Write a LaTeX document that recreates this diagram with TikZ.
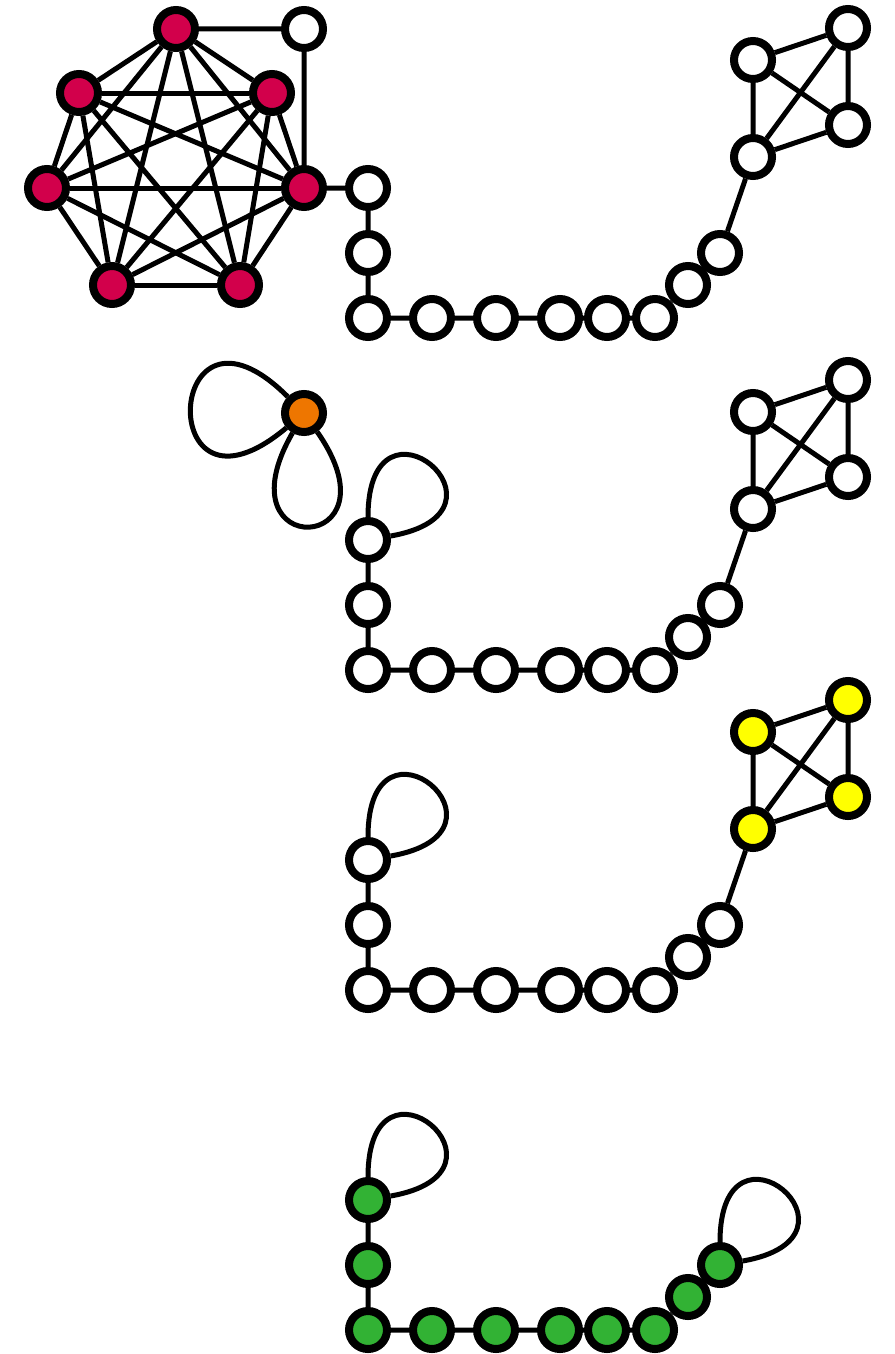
\documentclass[tikz,border=0pt]{standalone}
\usetikzlibrary{positioning}
\definecolor{cliquered}{RGB}{210,0,75}
\definecolor{huborange}{RGB}{238,118,0}
\definecolor{coreyellow}{RGB}{255,255,0}
\definecolor{tailgreen}{RGB}{50,178,52}

\begin{document}
\begin{tikzpicture}[
    x=1pt, y=1pt,
    vertex/.style={circle, draw, line width=8pt, minimum size=38pt, inner sep=0pt, fill=white},
    clique/.style={vertex, fill=cliquered},
    hub/.style={vertex, fill=huborange},
    core/.style={vertex, fill=coreyellow},
    tail/.style={vertex, fill=tailgreen},
    link/.style={line width=5pt},
    selfloop/.style={line width=5pt, looseness=1, min distance=140pt}
]
\useasboundingbox (0,0) rectangle (894,-1354);

% first graph: clique, chain and K4
\node[clique] (a1) at (176,-29) {};
\node[clique] (a2) at (79,-93) {};
\node[clique] (a3) at (272,-93) {};
\node[clique] (a4) at (47,-188) {};
\node[clique] (a5) at (304,-188) {};
\node[clique] (a6) at (112,-285) {};
\node[clique] (a7) at (240,-285) {};
\node[vertex] (aw) at (304,-29) {};
\node[vertex] (p1) at (368,-188) {};
\node[vertex] (p2) at (368,-253) {};
\node[vertex] (p3) at (368,-318) {};
\node[vertex] (p4) at (432,-318) {};
\node[vertex] (p5) at (496,-318) {};
\node[vertex] (p6) at (560,-318) {};
\node[vertex] (p7) at (607,-318) {};
\node[vertex] (p8) at (655,-318) {};
\node[vertex] (p9) at (688,-285) {};
\node[vertex] (p10) at (720,-253) {};
\node[vertex] (q1) at (753,-157) {};
\node[vertex] (q2) at (753,-60) {};
\node[vertex] (q3) at (848,-28) {};
\node[vertex] (q4) at (848,-125) {};
\foreach \i in {1,...,6} {
    \pgfmathtruncatemacro\k{\i+1}
    \foreach \j in {\k,...,7}
        \draw[link] (a\i) -- (a\j);
}
\draw[link] (a1) -- (aw) -- (a5) -- (p1) -- (p2) -- (p3) -- (p4) -- (p5) -- (p6) -- (p7) -- (p8) -- (p9) -- (p10) -- (q1);
\draw[link] (q1) -- (q2) -- (q3) -- (q4) -- (q1) -- (q3) (q2) -- (q4);

% second graph: hub with two loops
\node[hub] (b0) at (304,-413) {};
\node[vertex] (b1) at (368,-540) {};
\node[vertex] (b2) at (368,-605) {};
\node[vertex] (b3) at (368,-670) {};
\node[vertex] (b4) at (432,-670) {};
\node[vertex] (b5) at (496,-670) {};
\node[vertex] (b6) at (560,-670) {};
\node[vertex] (b7) at (607,-670) {};
\node[vertex] (b8) at (655,-670) {};
\node[vertex] (b9) at (688,-637) {};
\node[vertex] (b10) at (720,-605) {};
\node[vertex] (r1) at (753,-509) {};
\node[vertex] (r2) at (753,-412) {};
\node[vertex] (r3) at (848,-380) {};
\node[vertex] (r4) at (848,-477) {};
\draw[selfloop] (b0) to[out=135, in=220, min distance=175pt] (b0);
\draw[selfloop] (b0) to[out=240, in=305, min distance=150pt] (b0);
\draw[selfloop] (b1) to[out=90, in=10] (b1);
\draw[link] (b1) -- (b2) -- (b3) -- (b4) -- (b5) -- (b6) -- (b7) -- (b8) -- (b9) -- (b10) -- (r1);
\draw[link] (r1) -- (r2) -- (r3) -- (r4) -- (r1) -- (r3) (r2) -- (r4);

% third graph: yellow core
\node[vertex] (c1) at (368,-860) {};
\node[vertex] (c2) at (368,-925) {};
\node[vertex] (c3) at (368,-990) {};
\node[vertex] (c4) at (432,-990) {};
\node[vertex] (c5) at (496,-990) {};
\node[vertex] (c6) at (560,-990) {};
\node[vertex] (c7) at (607,-990) {};
\node[vertex] (c8) at (655,-990) {};
\node[vertex] (c9) at (688,-957) {};
\node[vertex] (c10) at (720,-925) {};
\node[core] (s1) at (753,-829) {};
\node[core] (s2) at (753,-732) {};
\node[core] (s3) at (848,-700) {};
\node[core] (s4) at (848,-797) {};
\draw[selfloop] (c1) to[out=90, in=10] (c1);
\draw[link] (c1) -- (c2) -- (c3) -- (c4) -- (c5) -- (c6) -- (c7) -- (c8) -- (c9) -- (c10) -- (s1);
\draw[link] (s1) -- (s2) -- (s3) -- (s4) -- (s1) -- (s3) (s2) -- (s4);

% fourth graph: green tail
\node[tail] (d1) at (368,-1200) {};
\node[tail] (d2) at (368,-1265) {};
\node[tail] (d3) at (368,-1330) {};
\node[tail] (d4) at (432,-1330) {};
\node[tail] (d5) at (496,-1330) {};
\node[tail] (d6) at (560,-1330) {};
\node[tail] (d7) at (607,-1330) {};
\node[tail] (d8) at (655,-1330) {};
\node[tail] (d9) at (688,-1297) {};
\node[tail] (d10) at (720,-1265) {};
\draw[selfloop] (d1) to[out=90, in=10] (d1);
\draw[selfloop] (d10) to[out=90, in=10] (d10);
\draw[link] (d1) -- (d2) -- (d3) -- (d4) -- (d5) -- (d6) -- (d7) -- (d8) -- (d9) -- (d10);
\end{tikzpicture}
\end{document}
